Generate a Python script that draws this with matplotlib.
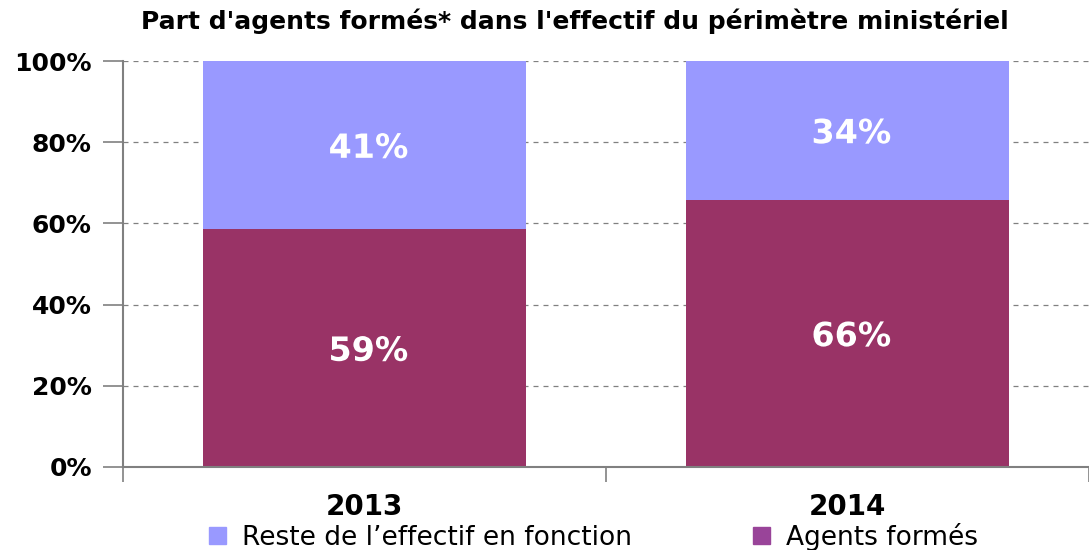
import matplotlib
matplotlib.use("Agg")
import matplotlib.pyplot as plt
import matplotlib.patheffects as pe
from matplotlib.patches import Patch

categories = ["2013", "2014"]
agents_formes = [58.6, 65.8]
reste = [41.4, 34.2]
yticks = [0, 20, 40, 60, 80, 100]
ytick_labels = ["0%", "20%", "40%", "60%", "80%", "100%"]
title = "Part d'agents formés* dans l'effectif du périmètre ministériel"
legend_labels = ["Reste de l\u2019effectif en fonction", "Agents formés"]

c_bottom = "#993366"
c_top = "#9999FF"
c_leg_bottom = "#994499"

plt.rcParams['font.family'] = ['DejaVu Sans']

fig = plt.figure(figsize=(10.89, 5.5), dpi=100)
ax = fig.add_axes([0.113, 0.151, 0.887, 0.738])

x = list(range(len(categories)))
w = 0.67
ax.bar(x, agents_formes, width=w, color=c_bottom, zorder=3)
ax.bar(x, reste, width=w, bottom=agents_formes, color=c_top, zorder=3)

shadow = [pe.SimpleLineShadow(offset=(1.5, -1.5), shadow_color="#555555", alpha=0.6), pe.Normal()]
for i in x:
    t = ax.text(i + 0.008, agents_formes[i] / 2 - 0.8, f"{round(agents_formes[i])}%", ha="center", va="center",
                color="white", fontsize=24, fontweight="bold", zorder=4)
    t.set_path_effects(shadow)
    t2 = ax.text(i + 0.008, agents_formes[i] + reste[i] / 2 - 0.8, f"{round(reste[i])}%", ha="center", va="center",
                 color="white", fontsize=24, fontweight="bold", zorder=4)
    t2.set_path_effects(shadow)

ax.set_xlim(-0.5, 1.5)
ax.set_ylim(0, 100)
ax.set_yticks(yticks)
ax.set_yticklabels(ytick_labels, fontsize=18, fontweight="bold")
ax.tick_params(axis="y", length=14.5, width=1.2, color="#808080", pad=8)

ax.set_xticks(x)
ax.set_xticklabels(categories, fontsize=20, fontweight="bold")
ax.tick_params(axis="x", length=0, pad=19)
ax.set_xticks([-0.5, 0.5, 1.5], minor=True)
ax.tick_params(axis="x", which="minor", length=11, width=1.2, color="#808080", direction="out")

for y in yticks[1:]:
    ax.axhline(y, color="#808080", linestyle=(0, (4, 4)), linewidth=0.9, zorder=1)

for s in ["top", "right"]:
    ax.spines[s].set_visible(False)
ax.spines["left"].set_color("#808080")
ax.spines["left"].set_linewidth(1.5)
ax.spines["bottom"].set_color("#808080")
ax.spines["bottom"].set_linewidth(1.5)
ax.spines["bottom"].set_zorder(5)

fig.text(0.528, 0.962, title, ha="center", va="center", fontsize=18, fontweight="bold")

handles = [Patch(color=c_top), Patch(color=c_leg_bottom)]
fig.legend(handles, legend_labels, loc="center", bbox_to_anchor=(0.545, 0.024), ncol=2, frameon=False,
           fontsize=19, handlelength=0.65, handleheight=0.65, columnspacing=4.6, handletextpad=0.6,
           borderpad=0.1)

fig.savefig("out.png", dpi=100)
